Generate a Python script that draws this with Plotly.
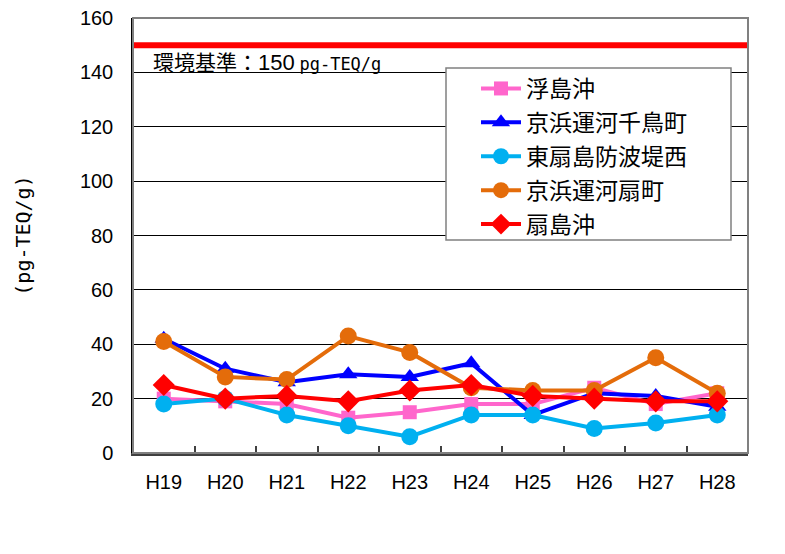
import plotly.graph_objects as go

years = ["H19", "H20", "H21", "H22", "H23", "H24", "H25", "H26", "H27", "H28"]
ukishima = [20, 19, 18, 13, 15, 18, 18, 24, 18, 22]
chidoricho = [42, 31, 26, 29, 28, 33, 14, 22, 21, 17]
higashiogi = [18, 20, 14, 10, 6, 14, 14, 9, 11, 14]
ogicho = [41, 28, 27, 43, 37, 24, 23, 23, 35, 22]
ogishima = [25, 20, 21, 19, 23, 25, 21, 20, 19, 19]
standard_value = 150
y_ticks = [0, 20, 40, 60, 80, 100, 120, 140, 160]

series = [
    ("浮島沖", ukishima, "#FF66CC", "square", 14),
    ("京浜運河千鳥町", chidoricho, "#0000FF", "triangle-up", 16),
    ("東扇島防波堤西", higashiogi, "#00B0F0", "circle", 17),
    ("京浜運河扇町", ogicho, "#E46C0A", "circle", 17),
    ("扇島沖", ogishima, "#FF0000", "diamond", 17),
]

JP = "Noto Sans CJK JP"
NUM = "Liberation Sans Narrow, Liberation Sans, Arial"
MONO = "DejaVu Sans Mono"

fig = go.Figure()
for i, (name, vals, color, sym, size) in enumerate(series):
    fig.add_trace(go.Scatter(
        x=years, y=vals, name=name, mode="lines+markers",
        line=dict(color=color, width=4),
        marker=dict(symbol=sym, size=size, color=color),
        legendgroup=f"g{i}",
    ))

fig.add_shape(type="line", xref="paper", yref="y", x0=0, x1=1,
              y0=standard_value, y1=standard_value,
              line=dict(color="#FF0000", width=6))
fig.add_annotation(xref="paper", yref="y", x=0.03, y=standard_value,
                   xanchor="left", yanchor="top", yshift=1, showarrow=False,
                   text=(f"環境基準：<span style='font-family:{NUM};font-size:22px'>{standard_value}</span>"
                         f" <span style='font-family:{MONO};font-size:17px'>pg-TEQ/g</span>"),
                   font=dict(family=JP, size=21, color="black"))
# frame
fig.add_shape(type="rect", xref="paper", yref="paper", x0=0, x1=1, y0=0, y1=1,
              line=dict(color="#808080", width=2), layer="above")
# legend box
fig.add_shape(type="rect", xref="paper", yref="paper",
              x0=(446 - 133) / 615, x1=(731 - 133) / 615,
              y0=(453 - 240) / 435, y1=(453 - 68) / 435,
              line=dict(color="#808080", width=1.5), fillcolor="white", layer="above")

fig.update_layout(
    width=785, height=554,
    margin=dict(l=133, r=37, t=18, b=101, autoexpand=False),
    paper_bgcolor="white", plot_bgcolor="white",
    showlegend=True,
    legend=dict(x=(476 - 133) / 615, y=(453 - 67) / 435, xanchor="left", yanchor="top",
                bgcolor="rgba(0,0,0,0)", borderwidth=0,
                font=dict(family=JP, size=23, color="black"),
                tracegroupgap=1, itemwidth=40),
    xaxis=dict(type="category", range=[-0.5, 9.5], tickson="boundaries", ticks="inside",
               ticklen=7, tickwidth=2, tickcolor="#404040",
               showline=True, linecolor="#404040", linewidth=3,
               showgrid=False, ticklabelstandoff=9,
               tickfont=dict(family=NUM, size=20, color="black")),
    yaxis=dict(range=[0, 160], tickvals=y_ticks, showgrid=True,
               gridcolor="black", gridwidth=1, zeroline=False,
               showline=True, linecolor="black", linewidth=1.5,
               ticks="", ticklabelstandoff=14,
               tickfont=dict(family=NUM, size=20, color="black"),
               title=dict(text="(pg-TEQ/g)", standoff=44,
                          font=dict(family=MONO, size=20, color="black"))),
)

fig.write_html("out.html")
